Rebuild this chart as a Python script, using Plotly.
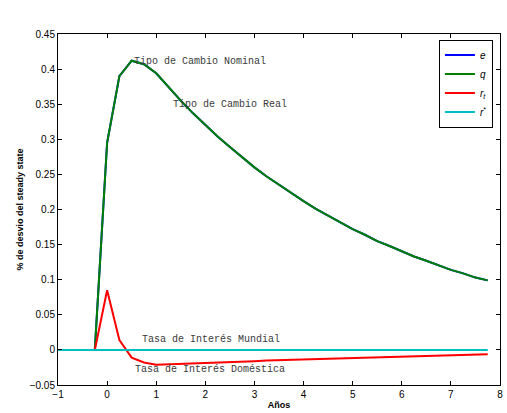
import plotly.graph_objects as go

# Time (years, quarterly)
t = [-1.0, -0.75, -0.5, -0.25, 0.0, 0.25, 0.5, 0.75, 1.0, 1.25, 1.5, 1.75, 2.0, 2.25,
     2.5, 2.75, 3.0, 3.25, 3.5, 3.75, 4.0, 4.25, 4.5, 4.75, 5.0, 5.25, 5.5, 5.75,
     6.0, 6.25, 6.5, 6.75, 7.0, 7.25, 7.5, 7.75]

# Real exchange rate q
q = [0, 0, 0, 0, 0.295, 0.390, 0.412, 0.407, 0.394, 0.374, 0.355, 0.337, 0.320, 0.304,
     0.289, 0.274, 0.260, 0.247, 0.235, 0.223, 0.212, 0.201, 0.191, 0.181, 0.172, 0.164,
     0.155, 0.148, 0.140, 0.133, 0.127, 0.120, 0.114, 0.109, 0.103, 0.099]

# Nominal exchange rate e (overlaps q)
e = list(q)

# Domestic interest rate r_t
r_t = [0, 0, 0, 0, 0.085, 0.014, -0.011, -0.018, -0.021, -0.0205, -0.020, -0.019,
       -0.0185, -0.018, -0.017, -0.0165, -0.016, -0.015, -0.0145, -0.014, -0.013,
       -0.0125, -0.012, -0.0115, -0.011, -0.0105, -0.010, -0.0095, -0.009, -0.0085,
       -0.008, -0.0077, -0.0073, -0.007, -0.0066, -0.0062]

# World interest rate r*
r_star = [0] * len(t)

series = [
    ("<i>e</i>", e, "#0000ff"),
    ("<i>q</i>", q, "#008000"),
    ("<i>r</i><sub><i>t</i></sub>", r_t, "#ff0000"),
    ("<i>r</i><sup>*</sup>", r_star, "#00bfbf"),
]

fig = go.Figure()
for name, y, c in series:
    fig.add_trace(go.Scatter(x=t, y=y, mode="lines", name=name,
                             line=dict(color=c, width=2)))

annots = [
    (0.5, 0.411, "Tipo de Cambio Nominal"),
    (1.3, 0.350, "Tipo de Cambio Real"),
    (0.67, 0.0153, "Tasa de Interés Mundial"),
    (0.52, -0.0276, "Tasa de Interés Doméstica"),
]
for x, y, txt in annots:
    fig.add_annotation(x=x, y=y, text=txt, showarrow=False, xanchor="left",
                       yanchor="middle",
                       font=dict(family="Liberation Mono, Courier New, monospace",
                                 size=10, color="#3a3a3a"))

axis_common = dict(showgrid=False, zeroline=False, showline=True, linecolor="black",
                   linewidth=1, mirror="ticks", ticks="inside", ticklen=4,
                   tickcolor="black",
                   tickfont=dict(family="Liberation Sans, Arial, sans-serif", size=10,
                                 color="black"))

fig.update_xaxes(range=[-1, 8], dtick=1, tick0=-1,
                 title=dict(text="<b>Años</b>", standoff=2,
                            font=dict(family="Liberation Sans, Arial, sans-serif",
                                      size=9, color="black")),
                 **axis_common)
fig.update_yaxes(range=[-0.05, 0.45],
                 tickvals=[-0.05, 0, 0.05, 0.1, 0.15, 0.2, 0.25, 0.3, 0.35, 0.4, 0.45],
                 ticktext=["\u22120.05", "0", "0.05", "0.1", "0.15", "0.2", "0.25",
                           "0.3", "0.35", "0.4", "0.45"],
                 title=dict(text="<b>% de desvio del steady state</b>", standoff=4,
                            font=dict(family="Liberation Sans, Arial, sans-serif",
                                      size=9, color="black")),
                 **axis_common)

fig.update_layout(
    width=507, height=413,
    margin=dict(l=58, r=4, t=34, b=28),
    paper_bgcolor="white", plot_bgcolor="white",
    showlegend=True,
    legend=dict(x=0.984, y=0.984, xanchor="right", yanchor="top",
                bordercolor="black", borderwidth=1, bgcolor="white",
                font=dict(family="Liberation Sans, Arial, sans-serif", size=10,
                          color="black"),
                itemwidth=30, tracegroupgap=0),
)

fig.write_html("out.html",
               config={"displayModeBar": False},
               post_script="document.body.style.margin='0';"
                           "document.body.style.overflow='hidden';")
